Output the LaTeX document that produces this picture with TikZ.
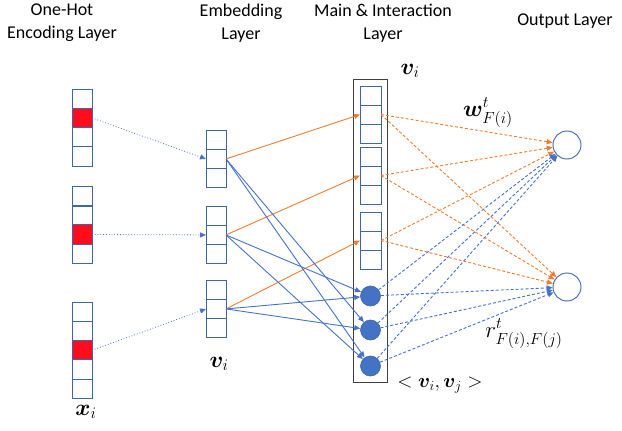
\documentclass[tikz,border=0pt]{standalone}
\usepackage{fix-cm}
\usepackage{amsmath,bm}
\usepackage{fontspec}
\setmainfont{Carlito}
\usetikzlibrary{arrows.meta}
\definecolor{oblue}{HTML}{4472C4}
\definecolor{oorange}{HTML}{ED7D31}
\definecolor{ored}{HTML}{FF0D1D}
\definecolor{cellblue}{HTML}{3F64A8}
\definecolor{framegray}{HTML}{404040}
\tikzset{
  cell/.style={draw=cellblue, line width=0.9pt, rectangle, minimum width=20pt, minimum height=19.3pt, inner sep=0pt, outer sep=0pt},
  mcell/.style={cell, minimum width=21pt, minimum height=19pt},
  hot/.style={cell, fill=ored},
  tipb/.style={-{Triangle[length=6pt,width=5pt]}},
  dotarrow/.style={oblue, line width=0.8pt, dotted, tipb},
  orsolid/.style={oorange, line width=0.9pt, tipb},
  blsolid/.style={oblue, line width=0.9pt, tipb},
  ordash/.style={oorange, line width=0.9pt, dashed, dash pattern=on 3pt off 2pt, tipb},
  bldash/.style={oblue, line width=0.9pt, dashed, dash pattern=on 3pt off 2pt, tipb},
  inter/.style={circle, fill=oblue, draw=cellblue, line width=0.6pt, minimum size=20pt, inner sep=0pt},
  outn/.style={circle, draw=cellblue, line width=0.9pt, fill=white, minimum size=28pt, inner sep=0pt},
  title/.style={align=center, font=\fontsize{18}{23}\selectfont},
  mlabel/.style={font=\fontsize{23}{26}\selectfont, inner sep=0pt}
}
\begin{document}
\begin{tikzpicture}[x=1pt,y=-1pt]
\useasboundingbox (0,0) rectangle (622,431);
% titles
\node[title] (t1) at (62,23) {One-Hot\\Encoding Layer};
\node[title] (t2) at (241,23) {Embedding\\Layer};
\node[title] (t3) at (383,23) {Main \& Interaction\\Layer};
\node[title] (t4) at (565,21) {Output Layer};
% one-hot vectors
\foreach \k in {1,...,4} \node[cell] (oa\k) at (82,{89+19.3*\k-9.65}) {};
\node[hot] at (oa2) {};
\foreach \k in {1,...,4} \node[cell] (ob\k) at (82,{187+19*\k-9.5}) {};
\node[hot] at (ob3) {};
\foreach \k in {1,...,5} \node[cell] (oc\k) at (82,{302+19.3*\k-9.65}) {};
\node[hot] at (oc3) {};
% embedding vectors
\foreach \k in {1,...,3} \node[cell] (ea\k) at (216,{130+19.3*\k-9.65}) {};
\foreach \k in {1,...,3} \node[cell] (eb\k) at (216,{206+19.3*\k-9.65}) {};
\foreach \k in {1,...,3} \node[cell] (ec\k) at (216,{280+19.3*\k-9.65}) {};
% main frame
\draw[framegray, line width=1pt] (353,79) rectangle (387,382);
\foreach \k in {1,...,3} \node[mcell] (ma\k) at (370.5,{86+19*\k-9.5}) {};
\foreach \k in {1,...,3} \node[mcell] (mb\k) at (370.5,{147+19*\k-9.5}) {};
\foreach \k in {1,...,3} \node[mcell] (mc\k) at (370.5,{212+19*\k-9.5}) {};
\node[inter] (c1) at (370.5,296) {};
\node[inter] (c2) at (370.5,330) {};
\node[inter] (c3) at (370.5,366) {};
% output
\node[outn] (out1) at (567,145) {};
\node[outn] (out2) at (567,287) {};
% one-hot to embedding
\draw[dotarrow] (oa2.east) -- (ea2.west);
\draw[dotarrow] (ob3.east) -- (eb2.west);
\draw[dotarrow] (oc3.east) -- (ec2.west);
% embedding to main
\draw[orsolid] (ea2.east) -- (ma2.west);
\draw[orsolid] (eb2.east) -- (mb2.west);
\draw[orsolid] (ec2.east) -- (mc2.west);
% embedding to interaction
\draw[blsolid] (ea2.east) -- (c2);
\draw[blsolid] (ea2.east) -- (c3);
\draw[blsolid] (eb2.east) -- (c1);
\draw[blsolid] (eb2.east) -- (c3);
\draw[blsolid] (ec2.east) -- (c1);
\draw[blsolid] (ec2.east) -- (c2);
% main to output
\foreach \m in {ma2,mb2,mc2} {
  \draw[ordash] (\m.east) -- (out1);
  \draw[ordash] (\m.east) -- (out2);
}
\foreach \c in {c1,c2,c3} {
  \draw[bldash] (\c) -- (out1);
  \draw[bldash] (\c) -- (out2);
}
% labels
\node[mlabel] (lx) at (86,412) {$\bm{x}_i$};
\node[mlabel] (lv1) at (219,364) {$\bm{v}_i$};
\node[mlabel] (lv2) at (410,71) {$\bm{v}_i$};
\node[mlabel] (lw) at (488,113) {$\bm{w}^t_{F(i)}$};
\node[mlabel] (lr) at (524,334) {$r^t_{F(i),F(j)}$};
\node[mlabel, font=\fontsize{20}{24}\selectfont] (lvv) at (440,385) {$<\bm{v}_i,\bm{v}_j>$};
\end{tikzpicture}
\end{document}
